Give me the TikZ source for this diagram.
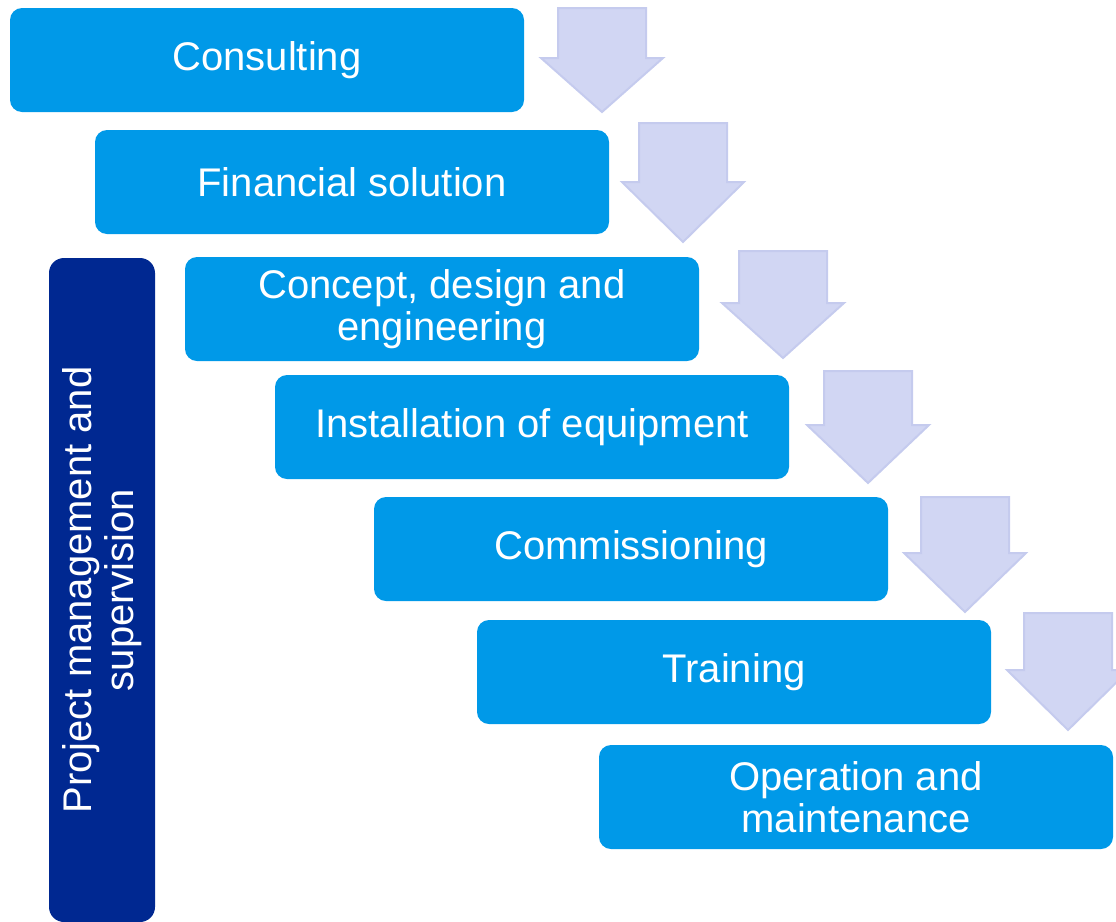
\documentclass[tikz,border=0pt]{standalone}
\usepackage{fontspec}
\setmainfont{Liberation Sans}
\definecolor{stepblue}{RGB}{0,153,232}
\definecolor{pmblue}{RGB}{0,40,145}
\definecolor{arrowfill}{RGB}{209,214,243}
\definecolor{arrowline}{RGB}{197,203,238}
\newcommand\stepdown[4]{%
  \draw[downarrow] (#1-44,#2) -- (#1+44,#2) -- (#1+44,#3) -- (#1+61,#3) -- (#1,#4) -- (#1-61,#3) -- (#1-44,#3) -- cycle;}
\begin{document}
\begin{tikzpicture}[x=1pt,y=-1pt,
  stepbox/.style={rectangle, rounded corners=12pt, fill=stepblue, text=white,
    minimum width=514pt, minimum height=104pt, inner sep=0pt, align=center,
    font=\fontsize{40}{42}\selectfont},
  pmbar/.style={rectangle, rounded corners=15pt, fill=pmblue, text=white,
    minimum width=664pt, minimum height=106pt, inner sep=0pt, align=center,
    rotate=90, font=\fontsize{40}{42}\selectfont},
  downarrow/.style={fill=arrowfill, draw=arrowline, line width=2pt, line join=miter}]
\useasboundingbox (0,0) rectangle (1116,921);
\begin{scope}
\clip (0,0) rectangle (1116,921);
\stepdown{602}{8}{58}{112}
\stepdown{683}{123}{182}{242}
\stepdown{783}{251}{303}{358}
\stepdown{868}{371}{425}{483}
\stepdown{965}{497}{553}{612}
\stepdown{1068}{613}{670}{730}
\node[pmbar] (pm) at (102,590) {Project management and\\supervision};
\node[stepbox] (consulting) at (267,60) {Consulting};
\node[stepbox] (financial) at (352,182) {Financial solution};
\node[stepbox] (concept) at (442,309) {Concept, design and\\engineering};
\node[stepbox] (install) at (532,427) {Installation of equipment};
\node[stepbox] (commission) at (631,549) {Commissioning};
\node[stepbox] (training) at (734,672) {Training};
\node[stepbox] (operation) at (856,797) {Operation and\\maintenance};
\end{scope}
\end{tikzpicture}
\end{document}
